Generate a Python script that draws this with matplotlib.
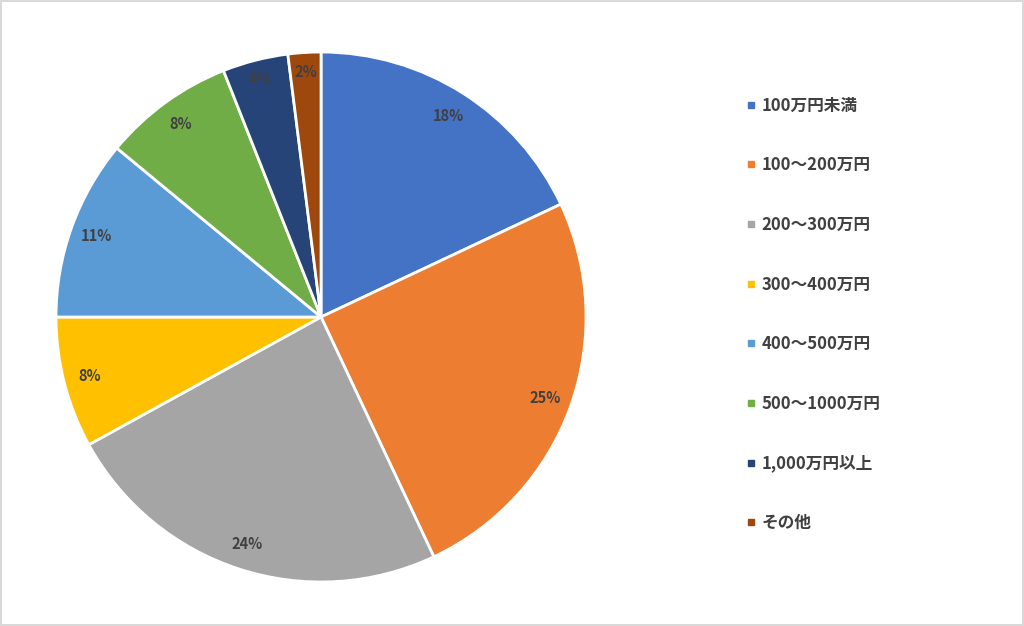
import matplotlib.pyplot as plt
from matplotlib.lines import Line2D

plt.rcParams['font.family'] = ['Noto Sans CJK JP', 'DejaVu Sans']

labels = ['100万円未満', '100～200万円', '200～300万円', '300～400万円',
          '400～500万円', '500～1000万円', '1,000万円以上', 'その他']
values = [18, 25, 24, 8, 11, 8, 4, 2]
colors = ['#4472C4', '#ED7D31', '#A5A5A5', '#FFC000',
          '#5B9BD5', '#70AD47', '#264478', '#9E480E']

fig = plt.figure(figsize=(10.24, 6.26), dpi=100)
fig.patch.set_edgecolor('#D9D9D9')
fig.patch.set_linewidth(1.5)

ax = fig.add_axes([0.0547, 0.0703, 0.5176, 0.8466])
wedges, texts, autotexts = ax.pie(values, colors=colors, startangle=90, counterclock=False,
                                  autopct='%d%%', pctdistance=0.9,
                                  wedgeprops=dict(edgecolor='white', linewidth=2))
for t in autotexts:
    t.set_color('#404040')
    t.set_fontsize(10.5)
    t.set_fontweight('bold')
# 小さい扇形のラベルは少し外側
for i in [6, 7]:
    x, y = autotexts[i].get_position()
    autotexts[i].set_position((x * 1.03, y * 1.03))
ax.set_aspect('auto')
ax.set_xlim(-1, 1)
ax.set_ylim(-1, 1)

# 凡例
handles = []
for c in colors:
    handles.append(Line2D([0], [0], marker='s', color='none', markerfacecolor=c,
                          markeredgecolor=c, markersize=5))
leg = fig.legend(handles, labels, loc='upper left', bbox_to_anchor=(0.714, 0.87),
                 frameon=False, fontsize=12, labelspacing=2.5, handlelength=0.6,
                 handletextpad=0.3)
for t in leg.get_texts():
    t.set_color('#404040')
    t.set_fontweight('bold')

fig.savefig('out.png', dpi=100)
